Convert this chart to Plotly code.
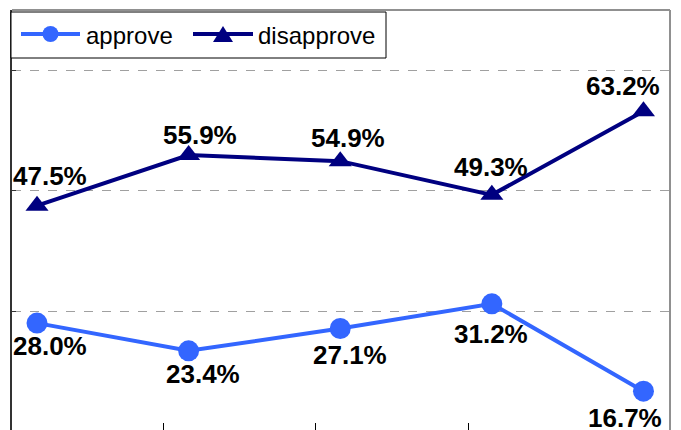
import plotly.graph_objects as go

# Survey results (percent) for five consecutive polls
polls = [0, 1, 2, 3, 4]
approve = [28.0, 23.4, 27.1, 31.2, 16.7]
disapprove = [47.5, 55.9, 54.9, 49.3, 63.2]
series_names = ["approve", "disapprove"]
y_ticks = [30, 50, 70]
x_tick_marks = [0.831, 1.840, 2.843]

# Label offsets in pixels (dx, dy) relative to each marker
approve_dx = [13, 14, 10, -1, -18]
approve_dy = [-23, -23, -26, -30, -27]
disapprove_dx = [13, 11, 8, -1, -20]
disapprove_dy = [30, 20, 23, 28, 25]

BLUE = "#3366FF"
NAVY = "#000080"
FONT = "Liberation Sans, Arial, Helvetica, sans-serif"

W, H = 681, 430
M_L, M_R, M_T, M_B = 12, 11, 10, 0
PW, PH = W - M_L - M_R, H - M_T - M_B


def px(x):
    """Pixel column -> paper x."""
    return (x - M_L) / PW


def py(y):
    """Pixel row -> paper y."""
    return 1 - (y - M_T) / PH


fig = go.Figure()
fig.add_trace(go.Scatter(
    x=polls, y=approve, name=series_names[0], mode="lines+markers",
    line=dict(color=BLUE, width=4),
    marker=dict(symbol="circle", size=21, color=BLUE),
))
fig.add_trace(go.Scatter(
    x=polls, y=disapprove, name=series_names[1], mode="lines+markers",
    line=dict(color=NAVY, width=4),
    marker=dict(symbol="triangle-up", size=20, color=NAVY),
))

annotations = []
for series, dxs, dys in ((approve, approve_dx, approve_dy),
                         (disapprove, disapprove_dx, disapprove_dy)):
    for xi, v, dx, dy in zip(polls, series, dxs, dys):
        annotations.append(dict(x=xi, y=v, text=f"{v:.1f}%", showarrow=False,
                                xshift=dx, yshift=dy, xanchor="center", yanchor="middle",
                                font=dict(family=FONT, size=26, color="black", weight="bold")))

# Boxed legend in the top-left corner of the plot
legend_y = 34
legend_items = [
    dict(name=series_names[0], color=BLUE, x0=21, x1=80, tx=84, symbol="circle"),
    dict(name=series_names[1], color=NAVY, x0=193, x1=253, tx=256, symbol="triangle"),
]
shapes = [
    dict(type="rect", xref="paper", yref="paper",
         x0=px(11), x1=px(386), y0=py(58), y1=py(12),
         fillcolor="white", line=dict(color="black", width=1), layer="above"),
]
for it in legend_items:
    shapes.append(dict(type="line", xref="paper", yref="paper",
                       x0=px(it["x0"]), x1=px(it["x1"]), y0=py(legend_y), y1=py(legend_y),
                       line=dict(color=it["color"], width=4), layer="above"))
    cx = (it["x0"] + it["x1"]) / 2
    if it["symbol"] == "circle":
        shapes.append(dict(type="circle", xref="paper", yref="paper",
                           x0=px(cx - 8), x1=px(cx + 8), y0=py(legend_y + 8), y1=py(legend_y - 8),
                           fillcolor=it["color"], line=dict(width=0), layer="above"))
    else:
        path = (f"M {px(cx - 10)},{py(legend_y + 8)} L {px(cx + 10)},{py(legend_y + 8)} "
                f"L {px(cx)},{py(legend_y - 8)} Z")
        shapes.append(dict(type="path", xref="paper", yref="paper", path=path,
                           fillcolor=it["color"], line=dict(width=0), layer="above"))
    annotations.append(dict(xref="paper", yref="paper", x=px(it["tx"]), y=py(legend_y + 1),
                            text=it["name"], showarrow=False, xanchor="left", yanchor="middle",
                            font=dict(family=FONT, size=24, color="black")))

# Grey frame along the top and right edges
shapes += [
    dict(type="line", xref="x domain", yref="y domain", x0=0, x1=1, y0=1, y1=1,
         line=dict(color="#909090", width=2)),
    dict(type="line", xref="x domain", yref="y domain", x0=1, x1=1, y0=0, y1=1,
         line=dict(color="#909090", width=2)),
]

fig.update_layout(
    width=W, height=H,
    margin=dict(l=M_L, r=M_R, t=M_T, b=M_B),
    paper_bgcolor="white", plot_bgcolor="white",
    showlegend=False,
    annotations=annotations,
    shapes=shapes,
)
fig.update_xaxes(
    range=[-0.165, 4.175], showgrid=False, zeroline=False, showline=False,
    tickmode="array", tickvals=x_tick_marks, ticktext=["", "", ""],
    ticks="inside", ticklen=7, tickcolor="black", tickwidth=1,
)
fig.update_yaxes(
    range=[10.25, 80], zeroline=False,
    showline=True, linecolor="#333333", linewidth=2,
    tickmode="array", tickvals=y_ticks, ticktext=["", "", ""],
    ticks="inside", ticklen=4, tickcolor="#333333",
    showgrid=True, gridcolor="#A0A0A0", griddash="dash", gridwidth=1,
)

fig.write_html("out.html")
